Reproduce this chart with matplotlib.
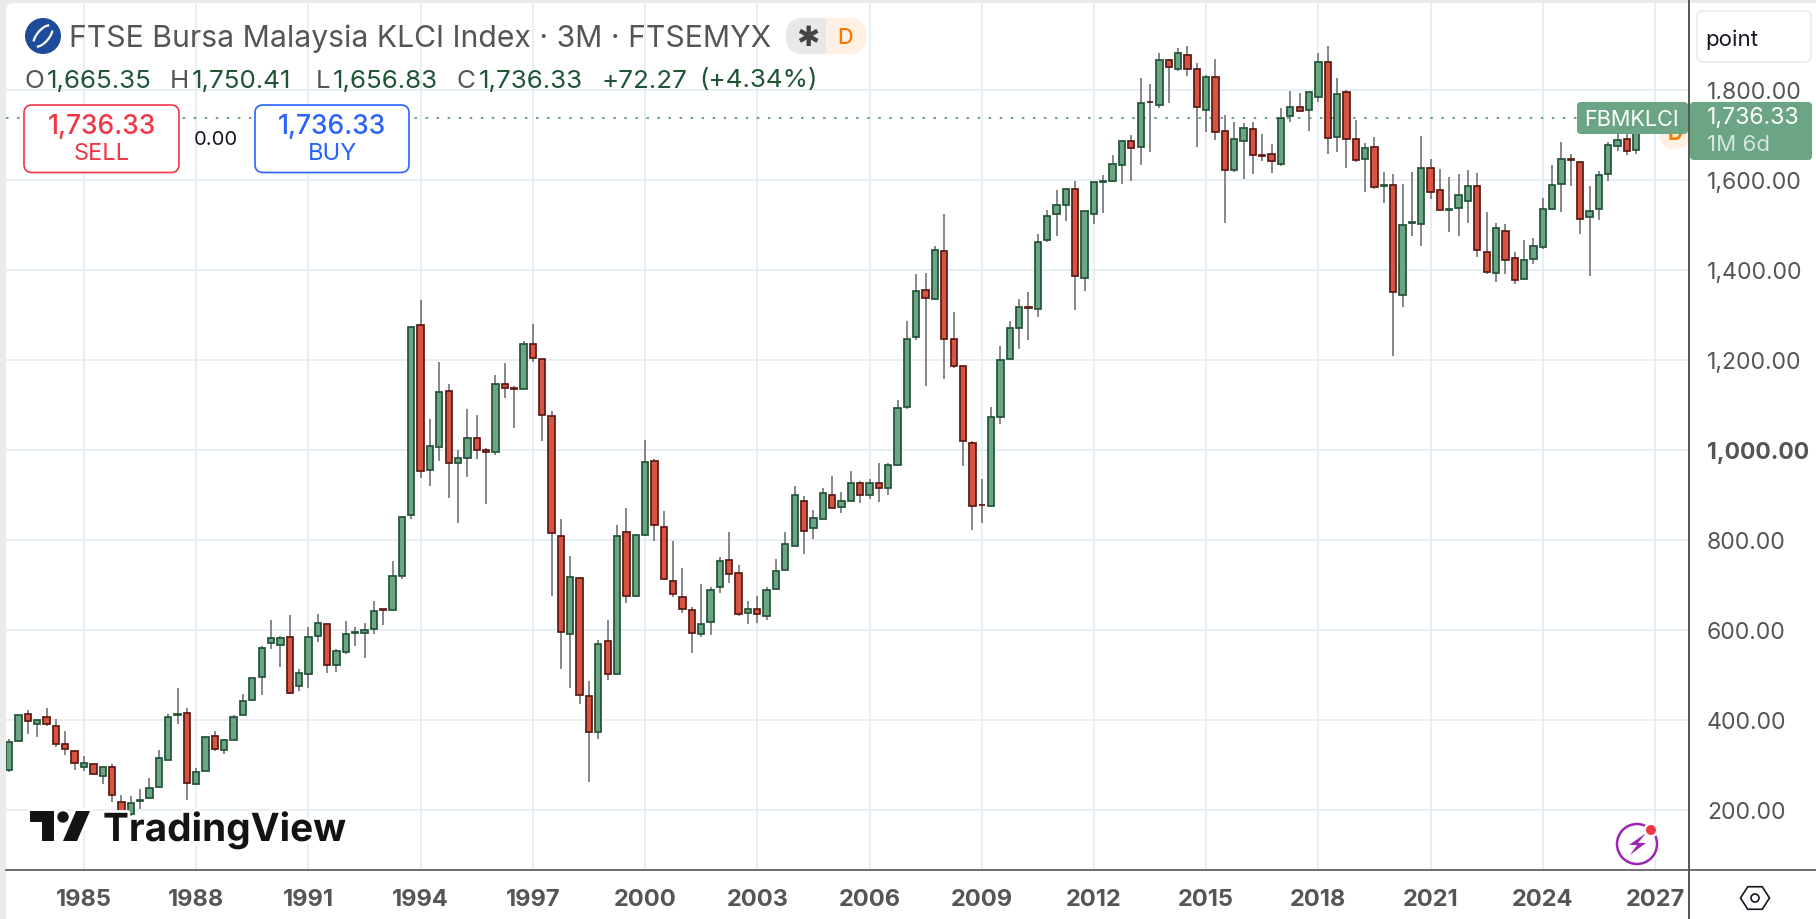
import matplotlib
matplotlib.use("Agg")
import matplotlib.pyplot as plt
import matplotlib.patheffects as pe
from matplotlib.patches import FancyBboxPatch, Circle, Polygon, Rectangle, Arc
from matplotlib.transforms import ScaledTranslation
import numpy as np

plt.rcParams['font.family'] = ['Inter', 'DejaVu Sans']

# Quarterly candles, starting 1983 Q1
opens = [288,353,413,390,407,387,347,331,296,302,276,296,218,190,219,225,250,310,410,416,
         258,286,364,332,356,410,443,494,570,565,584,474,501,585,613,521,550,592,593,601,
         645,644,720,855,1278,954,1007,1131,970,982,1025,999,994,1147,1137,1135,1236,1202,1076,809,
         590,716,453,372,575,501,817,675,811,976,829,709,673,644,590,617,694,756,727,637,
         645,630,690,732,786,887,825,847,900,872,887,925,899,925,915,965,1096,1250,1356,1336,
         1442,1247,1187,1016,878,875,1073,1201,1271,1317,1312,1467,1523,1544,1580,1381,1523,1595,1598,1633,
         1685,1672,1773,1765,1865,1845,1878,1847,1756,1829,1709,1621,1685,1713,1654,1658,1636,1741,1761,1754,
         1783,1862,1694,1796,1691,1645,1673,1587,1589,1343,1504,1501,1627,1578,1533,1537,1552,1587,1440,1392,
         1487,1425,1379,1424,1451,1536,1590,1645,1640,1517,1534,1612,1675,1690,1665.35]
highs = [357,411,421,400,425,401,374,331,319,302,296,301,233,230,246,270,333,412,470,427,
         292,362,376,358,410,457,493,563,621,587,632,513,605,635,613,557,619,605,616,664,
         645,753,851,1273,1333,1068,1195,1146,999,1090,1077,1004,1166,1193,1141,1241,1279,1202,1086,846,
         764,716,486,577,622,833,870,811,1022,979,864,797,737,650,702,694,761,817,744,664,
         675,694,757,817,919,897,867,916,942,905,952,930,934,970,971,1110,1286,1390,1393,1452,
         1524,1306,1187,1019,936,1094,1230,1287,1335,1350,1479,1533,1577,1579,1597,1530,1596,1610,1655,1687,
         1699,1825,1813,1882,1868,1893,1897,1859,1833,1868,1744,1728,1726,1728,1702,1679,1759,1797,1793,1796,
         1882,1897,1825,1799,1733,1682,1695,1617,1613,1590,1617,1697,1646,1624,1606,1613,1622,1615,1528,1504,
         1502,1439,1466,1471,1559,1633,1684,1657,1640,1586,1619,1684,1715,1735,1750.41]
lows = [284,353,368,362,387,340,322,289,286,279,257,218,185,185,201,225,250,310,391,222,
        256,286,331,324,356,410,443,455,557,518,459,464,470,573,504,506,546,564,537,591,
        610,644,713,847,937,919,975,893,837,939,979,879,989,1115,1048,1135,1195,1019,675,513,
        470,435,262,357,489,501,660,675,808,797,712,673,638,548,584,588,682,704,630,613,
        615,622,690,732,786,768,802,847,870,860,887,882,891,884,900,965,1091,1244,1142,1336,
        1157,1182,964,822,838,875,1057,1201,1224,1244,1295,1462,1475,1508,1310,1353,1502,1526,1595,1590,
        1597,1633,1662,1760,1770,1842,1830,1673,1706,1688,1504,1618,1602,1613,1642,1615,1630,1728,1753,1708,
        1773,1657,1662,1626,1639,1573,1579,1548,1208,1317,1475,1453,1557,1532,1484,1475,1504,1428,1391,1373,
        1391,1368,1379,1413,1446,1533,1528,1586,1479,1386,1510,1597,1664,1655,1656.83]
closes = [351,411,397,400,390,347,336,304,304,279,296,233,190,216,221,249,316,407,412,259,
          284,362,336,356,407,442,493,560,582,582,459,504,584,616,521,553,591,594,599,642,
          643,720,851,1273,952,1009,1129,970,982,1025,999,996,1147,1137,1136,1236,1203,1077,814,594,
          718,454,372,568,501,809,675,811,973,833,712,679,645,592,613,689,753,724,636,645,
          635,689,731,791,900,819,849,904,870,887,925,899,925,915,967,1093,1245,1353,1337,1444,
          1247,1185,1019,876,877,1073,1200,1271,1318,1316,1462,1519,1544,1579,1385,1530,1596,1597,1636,1687,
          1671,1771,1772,1867,1850,1882,1845,1761,1829,1705,1621,1691,1716,1654,1653,1641,1738,1762,1753,1796,
          1862,1692,1791,1690,1643,1671,1583,1588,1350,1500,1505,1627,1572,1532,1534,1567,1587,1444,1394,1493,
          1422,1377,1422,1453,1536,1589,1647,1644,1513,1530,1611,1677,1688,1664.06,1736.33]
quarter_times = [1983 + i / 4 for i in range(len(opens))]

x_years = [1985, 1988, 1991, 1994, 1997, 2000, 2003, 2006, 2009, 2012, 2015, 2018, 2021, 2024, 2027]
y_levels = [200, 400, 600, 800, 1000, 1200, 1400, 1600, 1800]
last_price = 1736.33

W, H = 1816, 920
UP, UP_E, DN, DN_E, WICK = '#6ba583', '#225437', '#d75442', '#5b1a13', '#737375'
GRID, AXC, TXT = '#e2ecf3', '#555555', '#555555'

fig = plt.figure(figsize=(W / 100, H / 100), dpi=100, facecolor='#ebebeb')

def px_axes(z):
    a = fig.add_axes([0, 0, 1, 1], zorder=z)
    a.set_xlim(0, W); a.set_ylim(H, 0); a.axis('off'); a.patch.set_alpha(0)
    return a

back = px_axes(0)
back.add_patch(FancyBboxPatch((6, 4), W, H, boxstyle='round,pad=0,rounding_size=8', fc='white', ec='none'))

# main price axes: pixel box x 6..1688.7, y 4..870.7
L, R, T, B = 6, 1688.7, 4, 870.7
ax = fig.add_axes([L / W, 1 - B / H, (R - L) / W, (B - T) / H], zorder=1)
ax.patch.set_alpha(0)
ppy = (1655 - 84) / 42
ax.set_xlim(1985 + (L - 84) / ppy, 1985 + (R - 84) / ppy)
ax.set_ylim(1000 - (B - 450.7) / 0.45, 1000 - (T - 450.7) / 0.45)
ax.set_axisbelow(True)
ax.grid(True, color=GRID, lw=1.2)
ax.set_xticks(x_years)
ax.set_xticklabels([str(y) for y in x_years], fontsize=17, fontweight='bold', color=TXT)
ax.yaxis.tick_right()
ax.set_yticks(y_levels)
ax.set_yticklabels([f'{v:,.2f}' for v in y_levels], fontsize=16.6, color=TXT, ha='left')
up_shift = ScaledTranslation(0, 1.5 / 100, fig.dpi_scale_trans)
for lab, v in zip(ax.get_yticklabels(), y_levels):
    lab.set_transform(lab.get_transform() + up_shift)
    if v == 1000:
        lab.set_fontweight('bold')
ax.tick_params(axis='x', length=0, pad=13)
ax.tick_params(axis='y', length=0, pad=13)
for s in ('top', 'left', 'right', 'bottom'):
    ax.spines[s].set_visible(False)

o, h, l, c = map(np.array, (opens, highs, lows, closes))
t = np.array(quarter_times)
rising = c >= o
ax.vlines(t, l, h, color=WICK, lw=1.2, zorder=2)
bw = 6.3 / ppy
ax.bar(t[rising], (c - o)[rising], bottom=o[rising], width=bw, color=UP, edgecolor=UP_E, linewidth=1.25, zorder=3)
ax.bar(t[~rising], (o - c)[~rising], bottom=c[~rising], width=bw, color=DN, edgecolor=DN_E, linewidth=1.25, zorder=3)
ax.axhline(last_price, color=UP, lw=1.5, ls=(0, (1.2, 4.1)), zorder=1.5)

top = px_axes(3)
# axis lines
top.plot([6, W], [870.7, 870.7], color=AXC, lw=1.2)
top.plot([1688.7, 1688.7], [0, H], color=AXC, lw=1.2)

# orange "D" marker behind the price label
top.add_patch(Circle((1675, 133), 17, fc='#fff0e3', ec='none', zorder=1))
top.text(1675, 134, 'D', color='#f57c00', fontsize=15, fontweight='bold', ha='center', va='center', zorder=1.1)
top.add_patch(Rectangle((1689.5, 100), 130, 70, fc='white', ec='none', zorder=1.2))
top.plot([1688.7, 1688.7], [0, H], color=AXC, lw=1.2, zorder=1.3)

# last price labels
top.add_patch(FancyBboxPatch((1577, 103), 111, 32, boxstyle='round,pad=0,rounding_size=4', fc=UP, ec='none', zorder=2))
top.text(1584, 120, 'FBMKLCI', color='white', fontsize=15.6, va='center', zorder=3)
top.add_patch(FancyBboxPatch((1690, 103), 122, 58, boxstyle='round,pad=0,rounding_size=4', fc=UP, ec='none', zorder=2))
top.text(1707, 117.5, '1,736.33', color='white', fontsize=16.6, va='center', zorder=3)
top.text(1707, 145, '1M 6d', color='#d5e6dc', fontsize=16, va='center', zorder=3)

# unit box
top.add_patch(FancyBboxPatch((1697, 12), 114, 51, boxstyle='round,pad=0,rounding_size=6', fc='white', ec='#eeeeee', lw=1.5))
top.text(1705, 40, 'point', color='#131722', fontsize=16, va='center')

# header
top.add_patch(Circle((43, 37), 18, fc='#1e4b9a', ec='none'))
top.add_patch(Arc((43, 37), 26, 12, angle=-50, theta1=20, theta2=170, color='white', lw=1.6))
top.add_patch(Arc((43, 37), 26, 12, angle=-50, theta1=200, theta2=350, color='white', lw=1.6))
top.text(69, 38.5, 'FTSE Bursa Malaysia KLCI Index · 3M · FTSEMYX', color=TXT, fontsize=21.7, va='center')
pill = FancyBboxPatch((786, 19), 80, 36, boxstyle='round,pad=0,rounding_size=17', fc='#e8e8e8', ec='none')
top.add_patch(pill)
right_half = Rectangle((826, 19), 40, 36, fc='#fff0e3', ec='none')
top.add_patch(right_half); right_half.set_clip_path(pill)
top.text(808, 38, '✱', color='#444444', fontsize=20, ha='center', va='center', family='DejaVu Sans')
top.text(845, 38, 'D', color='#f57c00', fontsize=15.5, fontweight='medium', ha='center', va='center')

ohlc_green = '#1f5434'
for x0, lab in ((24, 'O'), (170, 'H'), (316, 'L'), (457, 'C')):
    top.text(x0, 81, lab, color=TXT, fontsize=18.7, va='center')
for x0, s in ((47, '1,665.35'), (192, '1,750.41'), (333, '1,656.83'), (479, '1,736.33'), (601, '+72.27'), (699, '(+4.34%)')):
    top.text(x0, 81, s, color=ohlc_green, fontsize=18.7, va='center')

# trade buttons
RED, BLUE = '#f23645', '#2962ff'
top.add_patch(FancyBboxPatch((24, 106), 155, 67.5, boxstyle='round,pad=0,rounding_size=8', fc='white', ec=RED, lw=1.2))
top.text(101.5, 127, '1,736.33', color=RED, fontsize=19, fontweight='medium', ha='center', va='center')
top.text(101.5, 154, 'SELL', color=RED, fontsize=17, ha='center', va='center')
top.text(216, 140, '0.00', color='#131722', fontsize=14.5, ha='center', va='center')
top.add_patch(FancyBboxPatch((255, 106), 154, 67.5, boxstyle='round,pad=0,rounding_size=8', fc='white', ec=BLUE, lw=1.2))
top.text(332, 127, '1,736.33', color=BLUE, fontsize=19, fontweight='medium', ha='center', va='center')
top.text(332, 154, 'BUY', color=BLUE, fontsize=17, ha='center', va='center')

# TradingView logo
halo = [pe.withStroke(linewidth=4, foreground='white')]
for poly in ([(30, 812), (54, 812), (54, 842), (42, 842), (42, 823), (30, 823)],
             [(76, 812), (90, 812), (77, 842), (63, 842)]):
    top.add_patch(Polygon(poly, fc='#131313', ec='none', path_effects=[pe.Stroke(linewidth=4, foreground='white'), pe.Normal()]))
top.add_patch(Circle((63, 818), 5.7, fc='#131313', ec='none', path_effects=[pe.Stroke(linewidth=4, foreground='white'), pe.Normal()]))
top.text(103, 842, 'TradingView', color='#131313', fontsize=27.9, fontweight='bold', va='baseline', path_effects=halo)

# bolt badge
top.add_patch(Circle((1637, 845), 20, fc='white', ec='#9c27b0', lw=1.8))
top.add_patch(Polygon([(1646, 834), (1629, 846), (1637, 846), (1630, 856), (1646, 844), (1638, 844)], fc='#9c27b0', ec='none'))
top.add_patch(Circle((1651, 831), 7.5, fc='white', ec='none'))
top.add_patch(Circle((1651, 831), 5, fc=RED, ec='none'))

# settings hexagon
ang = np.deg2rad(np.arange(0, 360, 60))
top.add_patch(Polygon(np.c_[1755 + 14.5 * np.cos(ang), 899 + 13 * np.sin(ang)], fc='white', ec='#131722', lw=1.2))
top.add_patch(Circle((1755, 899), 4, fc='white', ec='#131722', lw=1.2))

fig.savefig('out.png', dpi=100, facecolor=fig.get_facecolor())
